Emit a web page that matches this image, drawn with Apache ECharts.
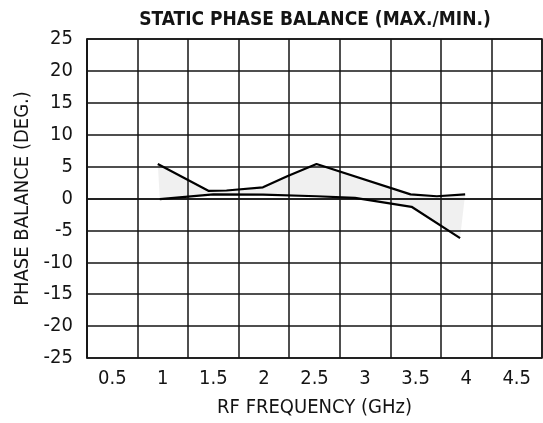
<!DOCTYPE html>
<html>
  <head>
    <meta charset="utf-8" />
    <title>Static phase balance</title>
    <script src="https://cdn.jsdelivr.net/npm/echarts@6/dist/echarts.min.js"></script>
  </head>
  <body style="margin:0;background:#fff;">
    <div id="main" style="width:543px;height:423px;"></div>
    <script type="text/javascript">
      // tick labels (cell centres) and data
      const freqLabels = ["0.5", "1", "1.5", "2", "2.5", "3", "3.5", "4", "4.5"];
      const maxFreq = [0.95, 1.45, 1.63, 1.99, 2.23, 2.52, 3.45, 3.71, 3.99];
      const maxPhase = [5.4, 1.2, 1.25, 1.75, 3.5, 5.4, 0.65, 0.35, 0.65];
      const minFreq = [0.97, 1.5, 1.99, 2.52, 2.9, 3.46, 3.94];
      const minPhase = [-0.1, 0.65, 0.6, 0.35, 0.1, -1.3, -6.2];

      const font = "'Liberation Sans Narrow', 'DejaVu Sans Condensed', 'Liberation Sans', sans-serif";
      const ink = "#141414";

      const maxData = maxFreq.map((f, i) => [f, maxPhase[i]]);
      const minData = minFreq.map((f, i) => [f, minPhase[i]]);

      const myChart = echarts.init(document.getElementById("main"));
      const option = {
        animation: false,
        backgroundColor: "#fff",
        title: {
          text: "STATIC PHASE BALANCE (MAX./MIN.)",
          left: 310,
          textAlign: "center",
          top: 6,
          textStyle: { fontFamily: font, fontWeight: "bold", fontSize: 19, color: ink },
        },
        grid: {
          left: 87,
          right: 1,
          top: 39,
          bottom: 65,
          show: true,
          borderColor: ink,
          borderWidth: 1.5,
        },
        xAxis: [
          {
            type: "category",
            data: freqLabels,
            boundaryGap: true,
            name: "RF FREQUENCY (GHz)",
            nameLocation: "middle",
            nameGap: 40,
            nameTextStyle: { fontFamily: font, fontSize: 20, color: ink },
            axisLine: { lineStyle: { color: ink, width: 1.5 } },
            axisTick: { show: false },
            axisLabel: { fontFamily: font, fontSize: 20, color: ink, margin: 11 },
            splitLine: { show: true, lineStyle: { color: ink, width: 1.5 } },
          },
          {
            type: "value",
            min: 0.25,
            max: 4.75,
            show: false,
          },
        ],
        yAxis: {
          type: "value",
          min: -25,
          max: 25,
          interval: 5,
          name: "PHASE BALANCE (DEG.)",
          nameLocation: "middle",
          nameGap: 52,
          nameTextStyle: { fontFamily: font, fontSize: 20, color: ink },
          axisLine: { show: true, lineStyle: { color: ink, width: 1.5 } },
          axisTick: { show: false },
          axisLabel: { fontFamily: font, fontSize: 20, color: ink, margin: 14 },
          splitLine: { show: true, lineStyle: { color: ink, width: 1.5 } },
        },
        series: [
          {
            // shaded band between max and min curves
            type: "custom",
            xAxisIndex: 1,
            data: [[0, 0]],
            z: 1,
            renderItem: function (params, api) {
              const pts = maxData.map((d) => api.coord(d));
              minData
                .slice()
                .reverse()
                .forEach((d) => pts.push(api.coord(d)));
              return {
                type: "polygon",
                shape: { points: pts },
                style: { fill: "rgba(0,0,0,0.06)", stroke: null },
              };
            },
          },
          {
            name: "MAX",
            type: "line",
            xAxisIndex: 1,
            data: maxData,
            symbol: "none",
            z: 3,
            lineStyle: { color: "#000", width: 2.2 },
          },
          {
            name: "MIN",
            type: "line",
            xAxisIndex: 1,
            data: minData,
            symbol: "none",
            z: 3,
            lineStyle: { color: "#000", width: 2.2 },
          },
        ],
      };
      myChart.setOption(option);
    </script>
  </body>
</html>
